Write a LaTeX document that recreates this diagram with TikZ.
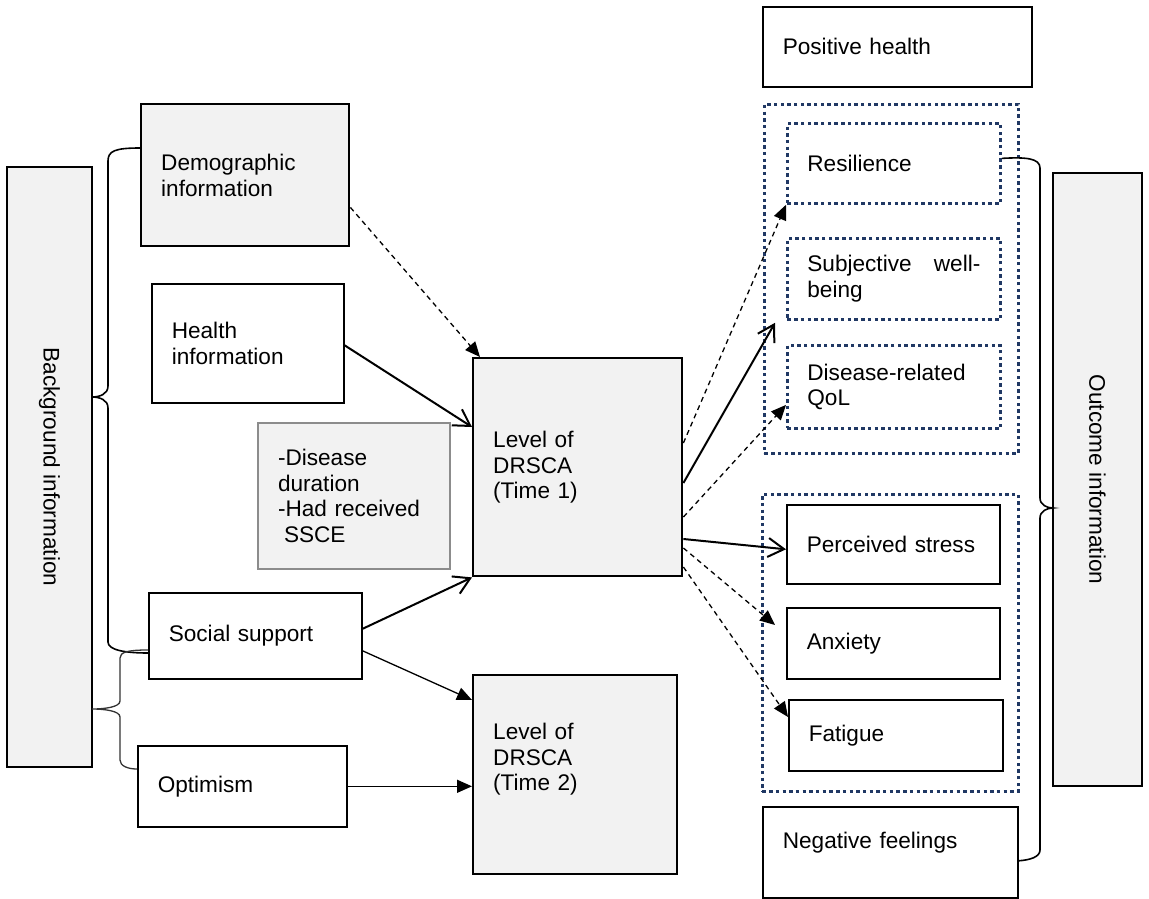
\documentclass[tikz,border=0pt]{standalone}
\usepackage{fontspec}
\setmainfont{Liberation Sans}
\usetikzlibrary{arrows.meta,calc}
\definecolor{boxgrey}{HTML}{F2F2F2}
\definecolor{navy}{HTML}{203864}
\definecolor{midgrey}{HTML}{8C8C8C}
\begin{document}
\begin{tikzpicture}[x=1pt,y=-1pt,
  font=\fontsize{22.6}{25.5}\selectfont,
  box/.style={draw=black, line width=1.6pt, inner xsep=20pt, inner ysep=0pt, align=left, anchor=north west, fill=white},
  gbox/.style={box, fill=boxgrey},
  heavy/.style={line width=2.4pt},
  dbox/.style={box, draw=navy, line width=2.8pt, dash pattern=on 3.4pt off 3.3pt, fill=none},
  sz/.style n args={3}{minimum width=#1pt, minimum height=#2pt, text width=#3pt},
  vbox/.style={draw=black, fill=boxgrey, line width=1.8pt, anchor=center, rotate=-90, inner sep=0pt, align=center},
  dasharrow/.style={line width=1.3pt, dash pattern=on 5pt off 4pt, -{Triangle[length=15pt,width=13pt]}},
  openarrow/.style={line width=2pt, -{Straight Barb[length=16pt,width=19pt]}},
  thinarrow/.style={line width=1.3pt, -{Triangle[length=15pt,width=13pt]}},
  bracepath/.style={draw=black, line width=1.6pt},
]
\useasboundingbox (0,0) rectangle (1149,899);

% left side
\node[vbox, minimum width=600pt, minimum height=85pt] (bg) at (49.5,467) {Background information};
\node[gbox, heavy, sz={208}{142}{168}] (demo) at (140,103) {Demographic\\information};
\node[box, sz={192}{119}{152}] (health) at (151,283) {Health\\information};
\node[gbox, draw=midgrey, line width=2pt, sz={192}{146}{152}] (dis) at (257,422) {-Disease\\duration\\-Had received\\\hspace*{6pt}SSCE};
\node[gbox, heavy, sz={207}{218}{169}] (t1) at (472,357) {Level of\\DRSCA\\(Time 1)};
\node[box, sz={213}{86}{173}] (social) at (148,592) {Social support};
\node[box, sz={209}{81}{169}] (optim) at (137,745) {Optimism};
\node[gbox, heavy, sz={204}{199}{164}, text depth=86pt] (t2) at (472,674) {Level of\\DRSCA\\(Time 2)};

% right side
\node[box, sz={269}{80}{229}] (pos) at (762,6) {Positive health};
\node[dbox, sz={254}{349}{214}] (pgrp) at (763,103) {};
\node[dbox, sz={213}{80}{173}] (res) at (786,122) {Resilience};
\node[dbox, sz={213}{81}{173}] (subj) at (786,237) {Subjective\hfill well-\\being};
\node[dbox, sz={213}{83}{173}] (qol) at (786,344) {Disease-related\\QoL};
\node[dbox, sz={256}{297}{216}] (ngrp) at (761,493) {};
\node[box, sz={213}{79}{173}] (stress) at (786,504) {Perceived stress};
\node[box, sz={213}{71}{173}] (anx) at (786,607) {Anxiety};
\node[box, sz={214}{71}{174}] (fat) at (788,699) {Fatigue};
\node[box, sz={255}{91}{215}, text depth=24pt] (neg) at (762,806) {Negative feelings};
\node[vbox, minimum width=613pt, minimum height=89pt] (out) at (1097.5,479.5) {Outcome information};

% braces
\draw[bracepath] ($(demo.north west)+(0,45)$) .. controls (115,148) and (108,151) .. (108,161) -- (108,386)
  .. controls (108,394) and (100,397) .. (92,397) .. controls (100,397) and (108,400) .. (108,408)
  -- (108,642) .. controls (108,650) and (125,653) .. ($(social.north west)+(0,61)$);
\draw[bracepath, line width=1.3pt, draw=black!80] ($(social.north west)+(0,58)$) .. controls (128,650) and (120,652) .. (120,658)
  -- (120,701) .. controls (120,707) and (105,709) .. (92,709) .. controls (105,709) and (120,711) .. (120,717)
  -- (120,760) .. controls (120,766) and (128,769) .. ($(optim.north west)+(0,24)$);
\draw[bracepath] ($(res.east)+(0,-5)$) .. controls (1025,157) and (1040,158) .. (1040,168) -- (1040,498)
  .. controls (1040,505) and (1047,508) .. (1053,508) .. controls (1047,508) and (1040,511) .. (1040,518)
  -- (1040,850) .. controls (1040,857) and (1030,860) .. ($(neg.east)+(0,8.5)$);

% arrows left
\draw[dasharrow] ($(demo.south east)+(0,-40)$) -- ($(t1.north west)+(8,0)$);
\draw[openarrow] ($(health.east)+(0,2)$) -- ($(t1.north west)+(0,70)$);
\draw[openarrow] ($(social.east)+(0,-7)$) -- (t1.south west);
\draw[thinarrow] ($(social.east)+(0,15)$) -- ($(t2.north west)+(0,26)$);
\draw[thinarrow] (optim.east) -- (t2.west |- optim.east);

% arrows right
\draw[dasharrow] ($(t1.north east)+(0,86)$) -- (res.south west);
\draw[openarrow] ($(t1.north east)+(0,126)$) -- ($(subj.south west)+(-11,2)$);
\draw[dasharrow] ($(t1.north east)+(0,160)$) -- ($(qol.west)+(0,18)$);
\draw[openarrow] ($(t1.north east)+(0,182)$) -- ($(stress.west)+(0,5)$);
\draw[dasharrow] ($(t1.north east)+(0,191)$) -- ($(anx.north west)+(-11,18)$);
\draw[dasharrow] ($(t1.north east)+(0,210)$) -- ($(fat.north west)+(0,18)$);
\end{tikzpicture}
\end{document}
